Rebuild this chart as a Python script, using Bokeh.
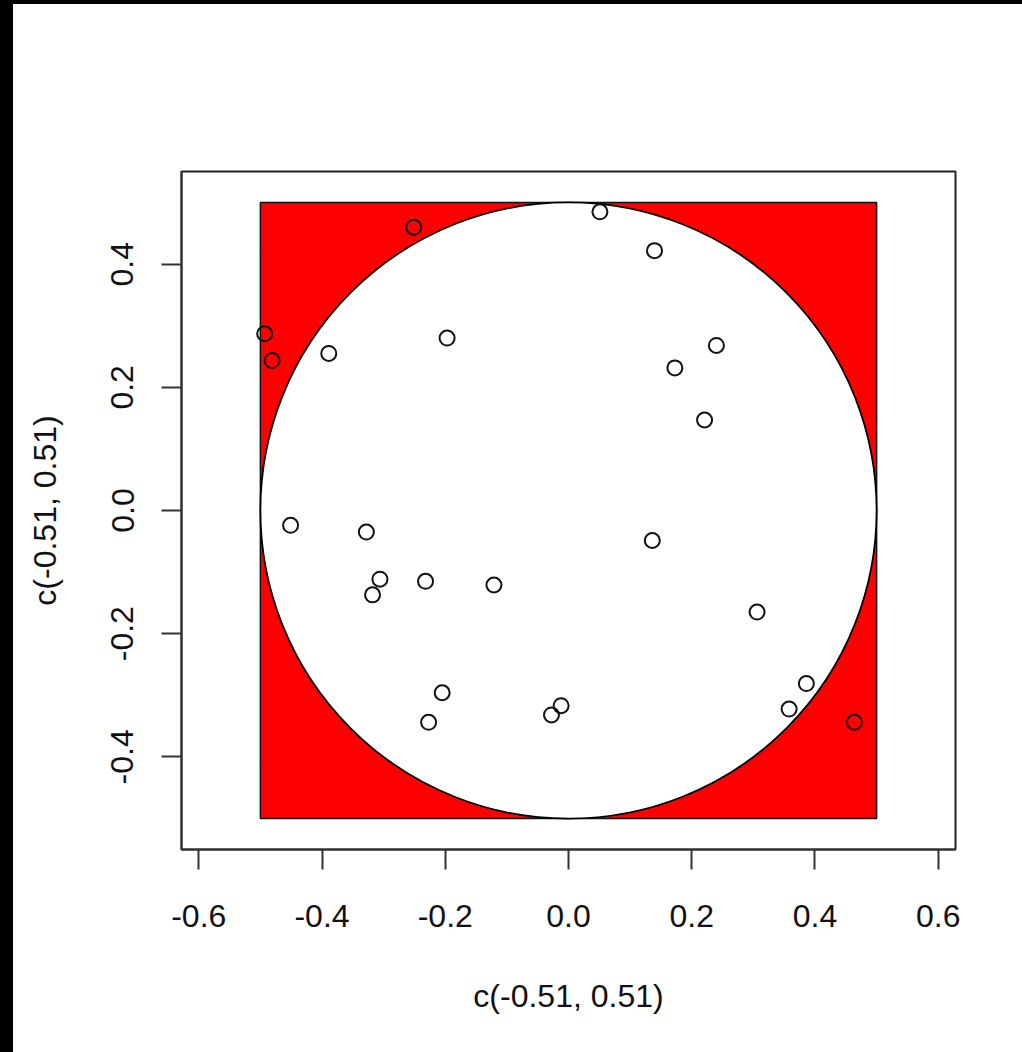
from bokeh.plotting import figure
from bokeh.models import Range1d, FixedTicker, Spacer
from bokeh.layouts import column, row
from bokeh.embed import file_html
from bokeh.resources import INLINE

# ---- data ----
x_vals = [-0.251, -0.493, -0.481, -0.389, -0.197, -0.451, -0.328, -0.306, -0.318,
          -0.232, -0.121, -0.205, -0.227, -0.012, -0.0276, 0.051, 0.1396, 0.240,
          0.1726, 0.2208, 0.136, 0.306, 0.386, 0.358, 0.464]
y_vals = [0.460, 0.287, 0.2435, 0.255, 0.280, -0.024, -0.035, -0.1115, -0.137,
          -0.115, -0.121, -0.296, -0.344, -0.317, -0.332, 0.485, 0.422, 0.268,
          0.2316, 0.147, -0.0487, -0.165, -0.281, -0.3225, -0.3437]
square_bounds = [-0.5, 0.5]
circle_center = [0.0]
circle_radius = [0.5]
x_ticks = [-0.6, -0.4, -0.2, 0.0, 0.2, 0.4, 0.6]
x_tick_labels = ["-0.6", "-0.4", "-0.2", "0.0", "0.2", "0.4", "0.6"]
y_ticks = [-0.4, -0.2, 0.0, 0.2, 0.4]
y_tick_labels = ["-0.4", "-0.2", "0.0", "0.2", "0.4"]
x_label = "c(-0.51, 0.51)"
y_label = "c(-0.51, 0.51)"

FONT = "Liberation Sans"

p = figure(width=1009, height=1048, output_backend="svg", toolbar_location=None,
           x_range=Range1d(-0.628, 0.628), y_range=Range1d(-0.5505, 0.5505),
           min_border_left=168, min_border_top=167, min_border_right=67,
           min_border_bottom=203)
p.background_fill_color = "white"
p.border_fill_color = "white"
p.outline_line_color = "#222222"
p.outline_line_width = 2
p.grid.visible = False

p.quad(left=[square_bounds[0]], right=[square_bounds[1]],
       bottom=[square_bounds[0]], top=[square_bounds[1]],
       fill_color="#ff0000", line_color="#111111", line_width=1.5)
p.circle(x=circle_center, y=circle_center, radius=circle_radius[0],
         fill_color="white", line_color="black", line_width=1.8)
p.scatter(x=x_vals, y=y_vals, size=15, marker="circle", fill_color=None,
          line_color="#111111", line_width=2)

for ax, ticks, labels, lab in ((p.xaxis[0], x_ticks, x_tick_labels, x_label),
                               (p.yaxis[0], y_ticks, y_tick_labels, y_label)):
    ax.ticker = FixedTicker(ticks=ticks)
    ax.major_label_overrides = {t: l for t, l in zip(ticks, labels)}
    ax.axis_label = lab
    ax.axis_label_text_font = FONT
    ax.axis_label_text_font_size = "32px"
    ax.axis_label_text_font_style = "normal"
    ax.axis_label_text_color = "#111111"
    ax.major_label_text_font = FONT
    ax.major_label_text_font_size = "32px"
    ax.major_label_text_color = "#111111"
    ax.major_tick_out = 20
    ax.major_tick_in = 0
    ax.minor_tick_line_color = None
    ax.major_tick_line_width = 2
    ax.major_tick_line_color = "#333333"
    ax.axis_line_width = 2
    ax.axis_line_color = "#333333"

p.xaxis[0].major_label_standoff = 35
p.xaxis[0].axis_label_standoff = 48
p.yaxis[0].major_label_orientation = "vertical"
p.yaxis[0].major_label_standoff = 28
p.yaxis[0].axis_label_standoff = 46

top_bar = Spacer(width=1022, height=4, styles={"background-color": "#000000"})
left_bar = Spacer(width=13, height=1048, styles={"background-color": "#000000"})
layout = column(top_bar, row(left_bar, p, spacing=0), spacing=0)

html = file_html(layout, INLINE)
open("out.html", "w").write(html)
